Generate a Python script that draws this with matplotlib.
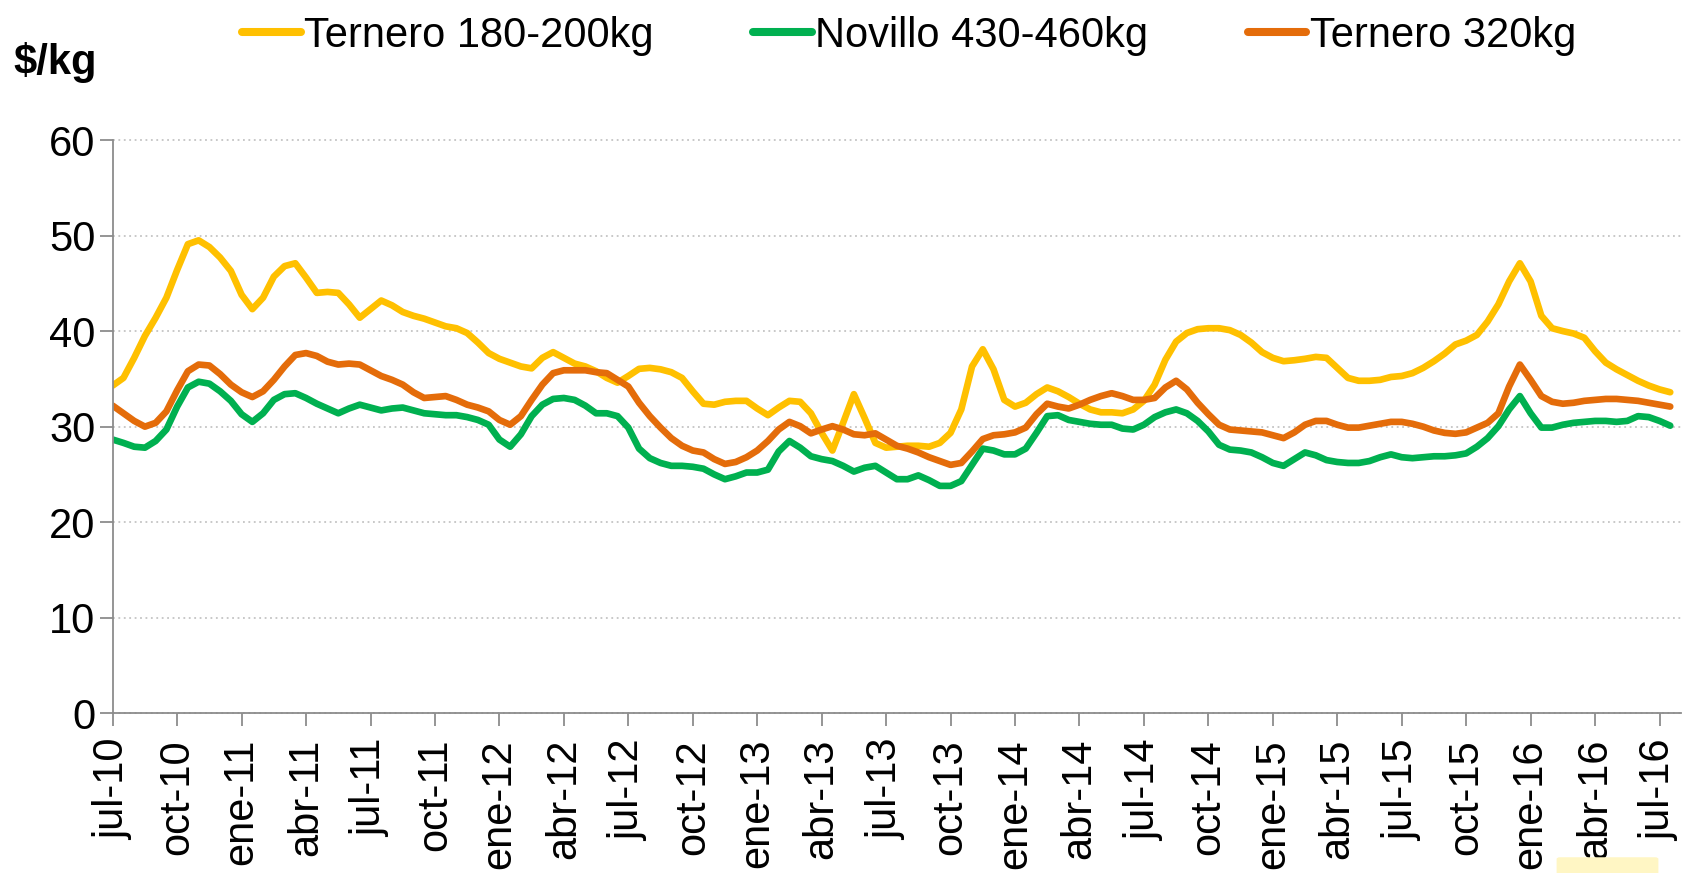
import numpy as np
import matplotlib
matplotlib.use('Agg')
import matplotlib.pyplot as plt
from matplotlib.patches import FancyBboxPatch

plt.rcParams['font.family'] = ['Liberation Sans', 'DejaVu Sans']

# ---- data (semi-monthly values, jul-10 ... jul-16) ----
series_names = ['Ternero 180-200kg', 'Novillo 430-460kg', 'Ternero 320kg']

ternero_180 = [
    34.3, 35.1, 37.2, 39.5, 41.4, 43.5, 46.4, 49.1, 49.5, 48.8, 47.7, 46.3,
    43.8, 42.3, 43.5, 45.7, 46.8, 47.1, 45.6, 44.0, 44.1, 44.0, 42.8, 41.4,
    42.3, 43.2, 42.7, 42.0, 41.6, 41.3, 40.9, 40.5, 40.3, 39.8, 38.8, 37.7,
    37.1, 36.7, 36.3, 36.1, 37.2, 37.8, 37.2, 36.6, 36.3, 35.8, 35.1, 34.6,
    35.3, 36.05, 36.15, 36.0, 35.7, 35.1, 33.7, 32.4, 32.3, 32.6, 32.7, 32.7,
    31.9, 31.2, 32.0, 32.7, 32.6, 31.4, 29.35, 27.5, 30.4, 33.4, 30.9, 28.3,
    27.8, 27.9, 28.0, 28.0, 27.9, 28.3, 29.35, 31.8, 36.3, 38.1, 36.0, 32.8,
    32.1, 32.5, 33.4, 34.1, 33.7, 33.1, 32.4, 31.8, 31.5, 31.5, 31.4,
    31.8, 32.7, 34.4, 37.0, 38.9, 39.8, 40.2, 40.3, 40.3, 40.1, 39.6, 38.8,
    37.8, 37.2, 36.85, 36.95, 37.1, 37.3, 37.2, 36.15, 35.1, 34.8, 34.8, 34.9,
    35.2, 35.3, 35.6, 36.15, 36.85, 37.65, 38.6, 39.0, 39.6, 41.0, 42.8, 45.2,
    47.1, 45.2, 41.6, 40.3, 40.0, 39.75, 39.3, 37.9, 36.7, 36.0, 35.4, 34.8,
    34.3, 33.9, 33.6,
]

novillo_430 = [
    28.65, 28.3, 27.9, 27.8, 28.5, 29.7, 32.1, 34.1, 34.7, 34.5, 33.7, 32.7,
    31.3, 30.5, 31.4, 32.8, 33.4, 33.5, 33.0, 32.4, 31.9, 31.4, 31.9, 32.3,
    32.0, 31.7, 31.9, 32.0, 31.7, 31.4, 31.3, 31.2, 31.2, 31.0, 30.7, 30.2,
    28.65, 27.9, 29.2, 31.1, 32.3, 32.9, 33.0, 32.8, 32.2, 31.4, 31.4, 31.1,
    29.9, 27.7, 26.7, 26.2, 25.9, 25.9, 25.8, 25.6, 25.0, 24.5, 24.8, 25.2,
    25.2, 25.5, 27.4, 28.5, 27.8, 26.9, 26.6, 26.4, 25.9, 25.3, 25.7, 25.9,
    25.2, 24.5, 24.5, 24.9, 24.4, 23.8, 23.8, 24.3, 26.0, 27.7, 27.5, 27.1,
    27.1, 27.7, 29.35, 31.1, 31.2, 30.7, 30.5, 30.3, 30.2, 30.2, 29.8,
    29.7, 30.2, 31.0, 31.5, 31.8, 31.4, 30.6, 29.5, 28.1, 27.6, 27.5, 27.3,
    26.8, 26.2, 25.9, 26.6, 27.3, 27.0, 26.5, 26.3, 26.2, 26.2, 26.4, 26.8,
    27.1, 26.8, 26.7, 26.8, 26.9, 26.9, 27.0, 27.2, 27.9, 28.8, 30.05, 31.8,
    33.2, 31.4, 29.9, 29.9, 30.2, 30.4, 30.5, 30.6, 30.6, 30.5, 30.6, 31.1,
    31.0, 30.6, 30.1,
]

ternero_320 = [
    32.2, 31.4, 30.6, 30.0, 30.4, 31.6, 33.8, 35.8, 36.5, 36.4, 35.5, 34.4,
    33.6, 33.1, 33.7, 34.9, 36.3, 37.5, 37.7, 37.4, 36.8, 36.5, 36.6, 36.5,
    35.9, 35.3, 34.9, 34.4, 33.6, 33.0, 33.1, 33.2, 32.8, 32.3, 32.0, 31.6,
    30.7, 30.2, 31.1, 32.8, 34.4, 35.6, 35.9, 35.9, 35.9, 35.7, 35.6, 34.9,
    34.2, 32.5, 31.1, 29.9, 28.8, 28.0, 27.5, 27.3, 26.6, 26.1, 26.3, 26.8,
    27.5, 28.5, 29.7, 30.5, 30.05, 29.3, 29.7, 30.05, 29.7, 29.2, 29.1, 29.3,
    28.65, 28.0, 27.7, 27.3, 26.8, 26.4, 26.0, 26.2, 27.4, 28.7, 29.1, 29.2,
    29.4, 29.9, 31.3, 32.4, 32.1, 31.9, 32.3, 32.8, 33.2, 33.5, 33.2,
    32.8, 32.8, 33.0, 34.1, 34.8, 33.9, 32.5, 31.3, 30.2, 29.7, 29.6, 29.5,
    29.4, 29.1, 28.8, 29.4, 30.2, 30.6, 30.6, 30.2, 29.9, 29.9, 30.1, 30.3,
    30.5, 30.5, 30.3, 30.0, 29.6, 29.35, 29.25, 29.4, 29.9, 30.4, 31.4, 34.2,
    36.5, 34.9, 33.2, 32.6, 32.4, 32.5, 32.7, 32.8, 32.9, 32.9, 32.8, 32.7,
    32.5, 32.3, 32.1,
]

tick_labels = ['jul-10', 'oct-10', 'ene-11', 'abr-11', 'jul-11', 'oct-11',
               'ene-12', 'abr-12', 'jul-12', 'oct-12', 'ene-13', 'abr-13',
               'jul-13', 'oct-13', 'ene-14', 'abr-14', 'jul-14', 'oct-14',
               'ene-15', 'abr-15', 'jul-15', 'oct-15', 'ene-16', 'abr-16',
               'jul-16']
y_ticks = [0, 10, 20, 30, 40, 50, 60]

colors = ['#FFC000', '#00B050', '#E46C0A']

# ---- figure ----
fig = plt.figure(figsize=(16.96, 8.73), dpi=100)
ax = fig.add_axes([0.06645, 0.18293, 0.9247, 0.6567])

for vals, name, col in zip([ternero_180, novillo_430, ternero_320], series_names, colors):
    x = np.arange(len(vals)) / 2.0   # months since jul-10
    ax.plot(x, vals, color=col, lw=4.8, label=name,
            solid_capstyle='round', solid_joinstyle='round')

ax.set_xlim(0, 73)
ax.set_ylim(0, 60)
ax.set_yticks(y_ticks)
ax.set_xticks(np.arange(len(tick_labels)) * 3)
ax.set_xticklabels(tick_labels, rotation=90)

for s in ['top', 'right']:
    ax.spines[s].set_visible(False)
for s in ['left', 'bottom']:
    ax.spines[s].set_color('#8c8c8c')
    ax.spines[s].set_linewidth(1.3)

ax.tick_params(axis='both', direction='out', length=9.5, width=1.3,
               color='#8c8c8c', labelsize=30, labelcolor='black')
ax.tick_params(axis='y', pad=3)
ax.tick_params(axis='x', pad=9)

ax.yaxis.grid(True, linestyle=(0, (1, 2)), color='#c4c4c4', linewidth=1.3)
ax.set_axisbelow(True)
for gl in ax.get_ygridlines():
    gl.set_clip_on(False)

fig.text(13 / 1696, 1 - 74 / 873, '$/kg', fontsize=30, fontweight='bold',
         ha='left', va='baseline')

leg = fig.legend(loc='center', bbox_to_anchor=(0.536, 0.959), ncol=3,
                 frameon=False, fontsize=30, handlelength=1.4,
                 handletextpad=0.08, columnspacing=2.4, borderaxespad=0)
for ln in leg.get_lines():
    ln.set_linewidth(5.8)

# pale yellow mark at bottom right
fig.patches.append(FancyBboxPatch((1560 / 1696, 0.0), 95 / 1696, 14 / 873,
                                  boxstyle='round,pad=0.002',
                                  transform=fig.transFigure,
                                  facecolor='#fff6c4', edgecolor='none'))

fig.savefig('out.png', dpi=100)
